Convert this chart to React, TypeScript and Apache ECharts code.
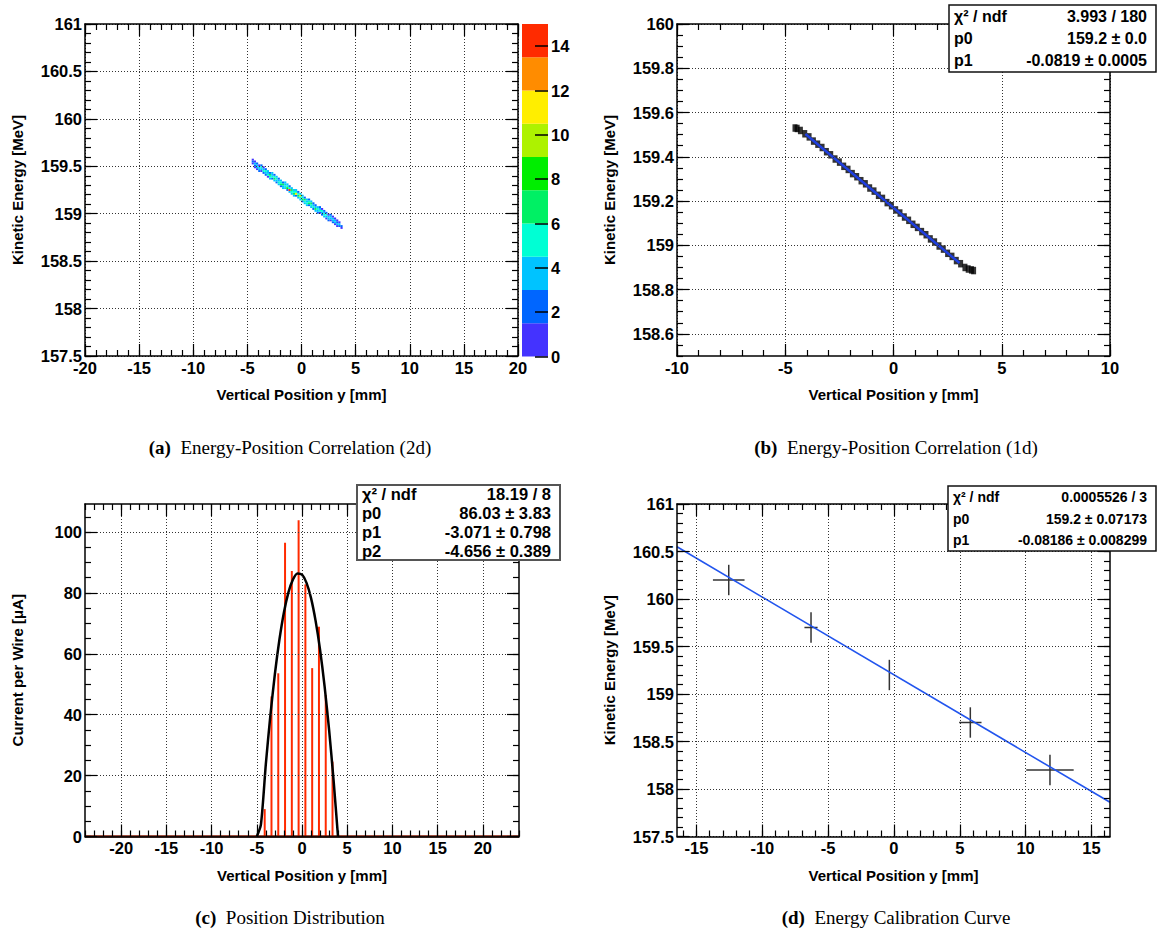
import React, { useEffect, useRef } from "react";
import * as echarts from "echarts";

// ---------- Panel (a): 2-D histogram (columns of 0.2 mm x 0.02 MeV bins) ----------
const heatBinW = 0.2;
const heatBinH = 0.02;
const heatColX = [-4.5, -4.3, -4.1, -3.9, -3.7, -3.5, -3.3, -3.1, -2.9, -2.7, -2.5, -2.3, -2.1, -1.9, -1.7, -1.5, -1.3, -1.1, -0.9, -0.7, -0.5, -0.3, -0.1, 0.1, 0.3, 0.5, 0.7, 0.9, 1.1, 1.3, 1.5, 1.7, 1.9, 2.1, 2.3, 2.5, 2.7, 2.9, 3.1, 3.3, 3.5, 3.7];
const heatColYLow = [159.5, 159.48, 159.46, 159.44, 159.44, 159.42, 159.4, 159.38, 159.36, 159.36, 159.34, 159.32, 159.3, 159.28, 159.26, 159.26, 159.24, 159.22, 159.2, 159.18, 159.18, 159.16, 159.14, 159.12, 159.1, 159.08, 159.08, 159.06, 159.04, 159.02, 159.0, 159.0, 158.98, 158.96, 158.94, 158.92, 158.92, 158.9, 158.88, 158.86, 158.84, 158.82];
const heatColCounts = [
  [0, 1, 2, 1], [1, 2, 3, 1], [1, 3, 4, 2], [2, 4, 3, 1], [1, 4, 5, 2], [2, 5, 4, 1],
  [2, 4, 5, 2], [1, 5, 4, 3], [3, 5, 6, 2], [2, 5, 4, 3], [3, 7, 5, 2], [2, 4, 5, 3],
  [3, 5, 4, 2], [2, 6, 5, 3], [3, 4, 7, 2], [3, 5, 4, 3], [2, 8, 5, 3], [3, 14, 5, 2],
  [4, 5, 7, 3], [3, 6, 5, 4], [2, 11, 5, 3], [4, 7, 5, 2], [3, 5, 9, 3], [2, 6, 5, 4],
  [3, 5, 7, 2], [4, 5, 4, 3], [2, 7, 5, 2], [3, 5, 6, 3], [2, 5, 4, 2], [3, 6, 4, 2],
  [2, 4, 5, 3], [1, 5, 4, 2], [2, 4, 5, 1], [3, 5, 4, 2], [1, 4, 5, 2], [2, 4, 3, 1],
  [1, 4, 3, 2], [2, 3, 4, 1], [1, 4, 3, 1], [1, 3, 2, 1], [0, 2, 3, 1], [0, 1, 2, 0],
];
const paletteEdges = [0, 1.5, 3, 4.5, 6, 7.5, 9, 10.5, 12, 13.5, 15];
const paletteColors = ["#4433ff", "#0066ff", "#00c3ff", "#00ffd4", "#00f064", "#00ee00", "#adf200", "#ffee00", "#ff8c00", "#ff2b00"];
const paletteTicks = [0, 2, 4, 6, 8, 10, 12, 14];

// ---------- Panel (b): profile scatter + linear fit ----------
const bScatX = [-4.55, -4.45, -4.3, -4.1, -3.9, -3.7, -3.5, -3.3, -3.1, -2.9, -2.7, -2.5, -2.3, -2.1, -1.9, -1.7, -1.5, -1.3, -1.1, -0.9, -0.7, -0.5, -0.3, -0.1, 0.1, 0.3, 0.5, 0.7, 0.9, 1.1, 1.3, 1.5, 1.7, 1.9, 2.1, 2.3, 2.5, 2.7, 2.9, 3.1, 3.3, 3.45, 3.6, 3.7];
const bScatY = [159.53, 159.528, 159.519, 159.504, 159.49, 159.471, 159.457, 159.442, 159.423, 159.409, 159.39, 159.376, 159.357, 159.343, 159.324, 159.31, 159.292, 159.278, 159.259, 159.245, 159.226, 159.212, 159.193, 159.179, 159.16, 159.146, 159.128, 159.113, 159.095, 159.081, 159.062, 159.048, 159.029, 159.015, 158.997, 158.983, 158.964, 158.95, 158.931, 158.917, 158.9, 158.893, 158.889, 158.886];
const bFitX = [-4.07, 3.05];
const bFitY = [159.503, 158.92];

// ---------- Panel (c): current per wire + fit ----------
const wirePos = [-4.125, -3.375, -2.625, -1.875, -1.125, -0.375, 0.375, 1.125, 1.875, 2.625, 3.375];
const wireCurrent = [9, 46, 53.6, 96.5, 87.2, 103.9, 82.8, 55.3, 68.9, 46.5, 24.6];
const wireBinWidth = 0.22;
const cFitX = [-5.0, -4.54, -4.0, -3.5, -3.0, -2.5, -2.0, -1.5, -1.0, -0.5, 0.0, 0.5, 1.0, 1.5, 2.0, 2.5, 3.0, 3.5, 3.98];
const cFitY = [0, 4.0, 23.8, 39.7, 53.3, 64.6, 73.6, 80.2, 84.4, 86.4, 86.0, 83.3, 78.3, 70.9, 61.3, 49.3, 34.9, 18.2, 0];

// ---------- Panel (d): calibration points + linear fit ----------
const calibPos = [-12.55, -6.3, -0.35, 5.8, 11.85];
const calibEnergy = [160.2, 159.7, 159.2, 158.7, 158.2];
const calibPosErr = [1.2, 0.5, 0, 0.85, 1.8];
const calibEnergyErr = [0.16, 0.16, 0.16, 0.16, 0.16];
const dFitX = [-16.48, 16.41];
const dFitY = [160.55, 157.86];

// ---------- Tick labels ----------
const aXTicks = [-20, -15, -10, -5, 0, 5, 10, 15, 20];
const aYTicks = [157.5, 158, 158.5, 159, 159.5, 160, 160.5, 161];
const bXTicks = [-10, -5, 0, 5, 10];
const bYTicks = [158.6, 158.8, 159, 159.2, 159.4, 159.6, 159.8, 160];
const cXTicks = [-20, -15, -10, -5, 0, 5, 10, 15, 20];
const cYTicks = [0, 20, 40, 60, 80, 100];
const dXTicks = [-15, -10, -5, 0, 5, 10, 15];
const dYTicks = [157.5, 158, 158.5, 159, 159.5, 160, 160.5, 161];

const statB = [["χ² / ndf", "3.993 / 180"], ["p0", "159.2 ± 0.0"], ["p1", "-0.0819 ± 0.0005"]];
const statC = [["χ² / ndf", "18.19 / 8"], ["p0", "86.03 ± 3.83"], ["p1", "-3.071 ± 0.798"], ["p2", "-4.656 ± 0.389"]];
const statD = [["χ² / ndf", "0.0005526 / 3"], ["p0", "159.2 ± 0.07173"], ["p1", "-0.08186 ± 0.008299"]];

const SANS = "Liberation Sans";
const SERIF = "Liberation Serif";
const TITLE = { fontFamily: SANS, fontWeight: "bold", fontSize: 15, color: "#000" };
const LABEL = { fontFamily: SANS, fontWeight: "bold", fontSize: 16.5, color: "#000" };

function steps(a: number, b: number, s: number): number[] {
  const out: number[] = [];
  const n = Math.round((b - a) / s);
  for (let i = 0; i <= n; i++) out.push(+(a + i * s).toFixed(4));
  return out;
}

function buildOption() {
  const xAxes: any[] = [];
  const yAxes: any[] = [];
  const grids: any[] = [
    { left: 85, top: 24, width: 433, height: 332 },
    { left: 677, top: 24, width: 433, height: 332 },
    { left: 85, top: 504, width: 434, height: 332.5 },
    { left: 677, top: 504, width: 433, height: 332.5 },
    { left: 522, top: 24, width: 26, height: 332.5 },
  ].map((g) => ({ ...g, outerBoundsMode: "none", containLabel: false, show: false }));

  const addAxes = (list: any[], dim: "x" | "y", gridIndex: number, min: number, max: number, major: number[], minor: number[], name: string, nameGap: number) => {
    const sides = dim === "x" ? ["bottom", "top"] : ["left", "right"];
    const base = (position: string) => ({
      type: "value", gridIndex, min, max, position, z: 5, nameMoveOverlap: false,
      axisLine: { show: false, onZero: false },
      axisTick: { show: false },
      axisLabel: { show: false },
      splitLine: { show: false },
      minorTick: { show: false },
      minorSplitLine: { show: false },
    });
    const frame = { show: true, onZero: false, lineStyle: { color: "#000", width: 1.5 } };
    const tick = (vals: number[], len: number) => ({ show: true, inside: true, length: len, customValues: vals, lineStyle: { color: "#000", width: 1.2 } });
    const first = list.length;
    list.push({
      ...base(sides[0]),
      name, nameLocation: "middle", nameGap,
      nameTextStyle: { ...TITLE },
      axisLine: frame,
      axisTick: tick(major, 12),
      axisLabel: { show: true, customValues: major, margin: 3, ...LABEL },
      splitLine: { show: true, lineStyle: { color: "#333", width: 1, type: [1, 2] } },
    });
    list.push({ ...base(sides[0]), axisTick: tick(minor, 6) });
    list.push({ ...base(sides[1]), axisLine: frame, axisTick: tick(major, 12) });
    list.push({ ...base(sides[1]), axisTick: tick(minor, 6) });
    return first;
  };

  const X = "Vertical Position y [mm]";
  const ax = addAxes(xAxes, "x", 0, -20, 20, aXTicks, steps(-20, 20, 1), X, 31);
  const ay = addAxes(yAxes, "y", 0, 157.5, 161, aYTicks, steps(157.5, 161, 0.1), "Kinetic Energy [MeV]", 60);
  const bx = addAxes(xAxes, "x", 1, -10, 10, bXTicks, steps(-10, 10, 1), X, 31);
  const by = addAxes(yAxes, "y", 1, 158.5, 160, bYTicks, steps(158.5, 160, 0.05), "Kinetic Energy [MeV]", 60);
  const cx = addAxes(xAxes, "x", 2, -24, 24, cXTicks, steps(-24, 24, 1), X, 31);
  const cy = addAxes(yAxes, "y", 2, 0, 109.2, cYTicks, steps(0, 105, 5), "Current per Wire [μA]", 60);
  const dx = addAxes(xAxes, "x", 3, -16.48, 16.41, dXTicks, steps(-16, 16, 1), X, 31);
  const dy = addAxes(yAxes, "y", 3, 157.5, 161, dYTicks, steps(157.5, 161, 0.1), "Kinetic Energy [MeV]", 60);

  // colour bar axes
  const pbx = xAxes.length;
  xAxes.push({ type: "value", gridIndex: 4, min: 0, max: 1, show: false });
  const pby = yAxes.length;
  yAxes.push({
    type: "value", gridIndex: 4, min: 0, max: 15, position: "right", z: 5,
    axisLine: { show: false, onZero: false },
    axisTick: { show: true, inside: true, length: 13, customValues: paletteTicks, lineStyle: { color: "#000", width: 1.5 } },
    axisLabel: { show: true, customValues: paletteTicks, margin: 3, ...LABEL },
    splitLine: { show: false },
  });

  const colorOf = (c: number) => paletteColors[Math.min(paletteColors.length - 1, Math.floor(c / 1.5))];

  const heatCells: number[][] = [];
  heatColX.forEach((x, i) => {
    heatColCounts[i].forEach((c, j) => {
      if (c > 0) heatCells.push([x, +(heatColYLow[i] + j * heatBinH).toFixed(3), c]);
    });
  });

  const series: any[] = [
    {
      type: "custom", xAxisIndex: ax, yAxisIndex: ay, encode: { x: 0, y: 1 }, clip: true,
      data: heatCells,
      renderItem: (_p: any, api: any) => {
        const x = api.value(0), y = api.value(1), c = api.value(2);
        const p1 = api.coord([x - heatBinW / 2, y + heatBinH]);
        const p2 = api.coord([x + heatBinW / 2, y]);
        return { type: "rect", shape: { x: p1[0], y: p1[1], width: p2[0] - p1[0], height: p2[1] - p1[1] }, style: { fill: colorOf(c) } };
      },
    },
    {
      type: "custom", xAxisIndex: pbx, yAxisIndex: pby, encode: { x: 0, y: [1, 2] },
      data: paletteColors.map((_c, i) => [0, paletteEdges[i], paletteEdges[i + 1], i]),
      renderItem: (_p: any, api: any) => {
        const p1 = api.coord([0, api.value(2)]);
        const p2 = api.coord([1, api.value(1)]);
        return { type: "rect", shape: { x: p1[0], y: p1[1], width: p2[0] - p1[0], height: p2[1] - p1[1] }, style: { fill: paletteColors[api.value(3)] } };
      },
    },
    {
      type: "scatter", xAxisIndex: bx, yAxisIndex: by, symbol: "rect", symbolSize: [5, 7.5],
      itemStyle: { color: "#000" },
      data: bScatX.map((x, i) => [x, bScatY[i]]),
    },
    {
      type: "line", xAxisIndex: bx, yAxisIndex: by, symbol: "none",
      lineStyle: { color: "#1f3fdf", width: 2.5 },
      data: bFitX.map((x, i) => [x, bFitY[i]]),
    },
    {
      type: "line", xAxisIndex: cx, yAxisIndex: cy, symbol: "none",
      lineStyle: { color: "#7a1500", width: 2.5 },
      data: [[-24, 0], [24, 0]],
    },
    {
      type: "custom", xAxisIndex: cx, yAxisIndex: cy, encode: { x: 0, y: 1 },
      data: wirePos.map((x, i) => [x, wireCurrent[i]]),
      renderItem: (_p: any, api: any) => {
        const x = api.value(0), v = api.value(1);
        const p1 = api.coord([x - wireBinWidth / 2, v]);
        const p2 = api.coord([x + wireBinWidth / 2, 0]);
        return { type: "rect", shape: { x: p1[0], y: p1[1], width: p2[0] - p1[0], height: p2[1] - p1[1] }, style: { fill: "#ff2a00" } };
      },
    },
    {
      type: "line", xAxisIndex: cx, yAxisIndex: cy, symbol: "none", smooth: 0.25,
      lineStyle: { color: "#000", width: 2.5 },
      data: cFitX.map((x, i) => [x, cFitY[i]]),
    },
    {
      type: "custom", xAxisIndex: dx, yAxisIndex: dy, encode: { x: 0, y: 1 },
      data: calibPos.map((x, i) => [x, calibEnergy[i], calibPosErr[i], calibEnergyErr[i]]),
      renderItem: (_p: any, api: any) => {
        const x = api.value(0), y = api.value(1), ex = api.value(2), ey = api.value(3);
        const l = api.coord([x - ex, y]), r = api.coord([x + ex, y]);
        const t = api.coord([x, y + ey]), b = api.coord([x, y - ey]);
        const st = { stroke: "#333", lineWidth: 1.5 };
        return {
          type: "group",
          children: [
            { type: "line", shape: { x1: l[0], y1: l[1], x2: r[0], y2: r[1] }, style: st },
            { type: "line", shape: { x1: t[0], y1: t[1], x2: b[0], y2: b[1] }, style: st },
          ],
        };
      },
    },
    {
      type: "line", xAxisIndex: dx, yAxisIndex: dy, symbol: "none",
      lineStyle: { color: "#2255ee", width: 1.6 },
      data: dFitX.map((x, i) => [x, dFitY[i]]),
    },
  ];

  const graphics: any[] = [];
  const statBox = (x0: number, y0: number, x1: number, y1: number, rows: string[][], fs: number, stroke: string, lw: number) => {
    graphics.push({ type: "rect", z: 50, shape: { x: x0, y: y0, width: x1 - x0, height: y1 - y0 }, style: { fill: "#fff", stroke, lineWidth: lw } });
    const h = (y1 - y0) / rows.length;
    rows.forEach(([l, r], i) => {
      const yc = y0 + h * (i + 0.5);
      const common = { fontFamily: SANS, fontWeight: "bold", fontSize: fs, fill: "#000", verticalAlign: "middle", textVerticalAlign: "middle" };
      graphics.push({ type: "text", z: 51, style: { ...common, text: l, x: x0 + 5, y: yc, align: "left", textAlign: "left" } });
      graphics.push({ type: "text", z: 51, style: { ...common, text: r, x: x1 - 9, y: yc, align: "right", textAlign: "right" } });
    });
  };
  statBox(949, 5, 1156, 72, statB, 16, "#111", 1.5);
  statBox(357, 485, 560, 560, statC, 16.5, "#555", 2);
  statBox(948, 486, 1156, 551, statD, 14, "#111", 1.5);

  const caption = (x: number, y: number, tag: string, text: string) => {
    graphics.push({
      type: "text", z: 51,
      style: {
        text: `{b|${tag}}{n|  ${text}}`, x, y, align: "center", textAlign: "center", verticalAlign: "middle", textVerticalAlign: "middle",
        fontFamily: SERIF, fontSize: 19, fill: "#000",
        rich: {
          b: { fontFamily: SERIF, fontSize: 19, fontWeight: "bold", fill: "#000" },
          n: { fontFamily: SERIF, fontSize: 19, fontWeight: "normal", fill: "#000" },
        },
      },
    });
  };
  caption(290, 447, "(a)", "Energy-Position Correlation (2d)");
  caption(896, 447, "(b)", "Energy-Position Correlation (1d)");
  caption(290, 917, "(c)", "Position Distribution");
  caption(896, 917, "(d)", "Energy Calibration Curve");

  return {
    animation: false,
    backgroundColor: "#fff",
    grid: grids,
    xAxis: xAxes,
    yAxis: yAxes,
    series,
    graphic: { elements: graphics },
  };
}

export default function App() {
  const ref = useRef<HTMLDivElement>(null);
  useEffect(() => {
    if (!ref.current) return;
    const chart = echarts.init(ref.current, null, { renderer: "svg" });
    chart.setOption(buildOption() as any);
    return () => chart.dispose();
  }, []);
  return <div ref={ref} style={{ position: "absolute", left: 0, top: 0, width: 1157, height: 937 }} />;
}
